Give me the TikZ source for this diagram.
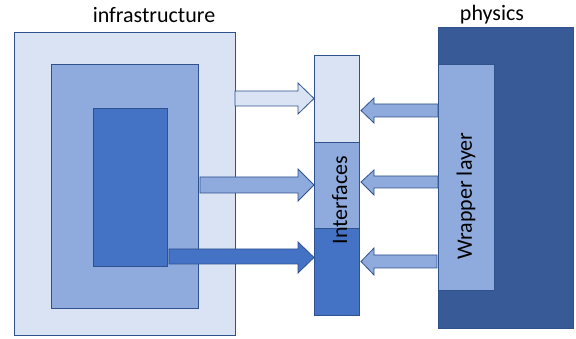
\documentclass[tikz,border=0pt]{standalone}
\usepackage{fontspec}
\setmainfont{Carlito}
\definecolor{lightblue}{HTML}{DAE3F3}
\definecolor{midblue}{HTML}{8FAADC}
\definecolor{darkblue}{HTML}{4472C4}
\definecolor{deepblue}{HTML}{385A96}
\definecolor{edgeblue}{HTML}{2F528F}
\begin{document}
\begin{tikzpicture}[x=1pt,y=-1pt,
  panel/.style={draw=edgeblue,line width=0.8pt},
  blockarrow/.style={draw=edgeblue,line width=0.8pt,line join=miter},
  caption/.style={font=\fontsize{22}{26}\selectfont,text=black,inner sep=0pt}]
\useasboundingbox (0,0) rectangle (576,339);

% infrastructure nesting
\path[panel,fill=lightblue] (14,32) rectangle (235,335);
\path[panel,fill=midblue] (51,64) rectangle (198,308);
\path[panel,fill=darkblue] (93,108) rectangle (167,266);
\node[caption,anchor=base] (infra) at (154,23) {infrastructure};

% physics block with wrapper
\path[panel,fill=deepblue] (438,27) rectangle (573,328);
\path[panel,fill=midblue] (438,64) rectangle (494,290);
\node[caption,anchor=base] (phys) at (492,20.5) {physics};
\node[caption,rotate=90] (wrap) at (466,196) {Wrapper layer};

% interface column
\path[panel,fill=lightblue] (314,55) rectangle (359,142);
\path[panel,fill=midblue] (314,142) rectangle (359,228);
\path[panel,fill=darkblue] (314,228) rectangle (359,315);

% arrows into the interfaces
\path[blockarrow,fill=lightblue] (235,91) -- (298,91) -- (298,83) -- (314,98.5) -- (298,114) -- (298,106) -- (235,106) -- cycle;
\path[blockarrow,fill=midblue] (200,177) -- (298,177) -- (298,169) -- (314,185) -- (298,201) -- (298,193) -- (200,193) -- cycle;
\path[blockarrow,fill=darkblue] (169,249) -- (298,249) -- (298,242) -- (314,257.5) -- (298,273) -- (298,264) -- (169,264) -- cycle;

% arrows from the wrapper
\path[blockarrow,fill=midblue] (438,104) -- (374,104) -- (374,98) -- (361,110.5) -- (374,123) -- (374,117) -- (438,117) -- cycle;
\path[blockarrow,fill=midblue] (438,176) -- (374,176) -- (374,170) -- (361,182) -- (374,195) -- (374,188) -- (438,188) -- cycle;
\path[blockarrow,fill=midblue] (437,255) -- (374,255) -- (374,248) -- (361,261.5) -- (374,275) -- (374,268) -- (437,268) -- cycle;

\node[caption,rotate=90,anchor=base] (iface) at (347,200) {Interfaces};
\end{tikzpicture}
\end{document}
